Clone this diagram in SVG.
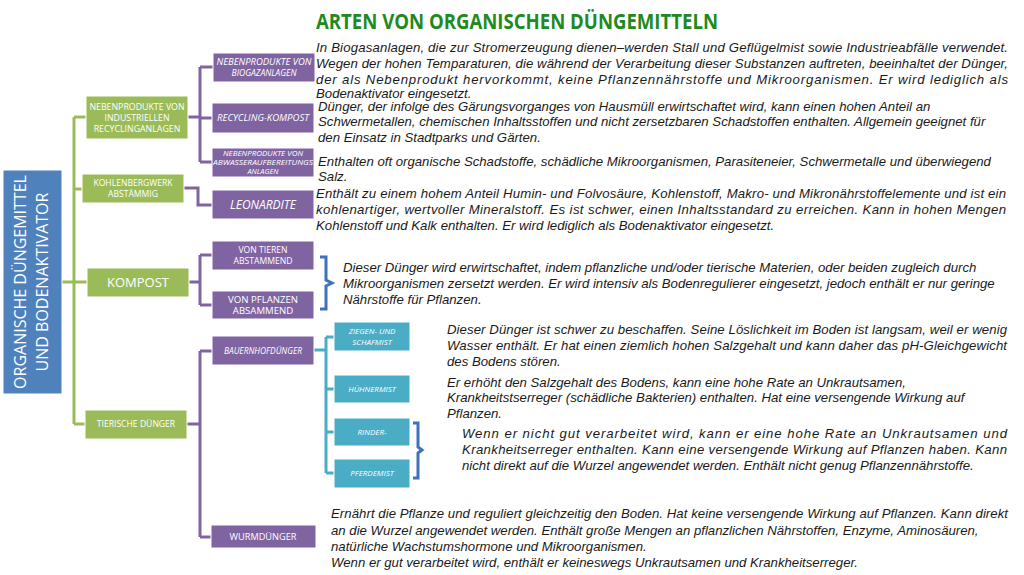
<svg xmlns="http://www.w3.org/2000/svg" width="1024" height="575" viewBox="0 0 1024 575">
<style>
.bg{fill:#ffffff}
.blue{fill:#4f81bd;stroke:#ffffff;stroke-width:1}
.green{fill:#9bbb59;stroke:#ffffff;stroke-width:1}
.purple{fill:#8064a2;stroke:#ffffff;stroke-width:1}
.teal{fill:#4bacc6;stroke:#ffffff;stroke-width:1}
.lbl{font-family:"Open Sans","Noto Sans",sans-serif;fill:#ffffff;text-anchor:middle}
.it{font-style:italic}
.desc{font-family:"Liberation Sans",Arial,sans-serif;font-style:italic;font-size:13.2px;fill:#1a1a1a}
.title{font-family:"Open Sans","Liberation Sans",sans-serif;font-weight:bold;font-size:21px;fill:#218a1e}
.cg{fill:none;stroke:#9bbb59;stroke-width:3}
.cp{fill:none;stroke:#8064a2;stroke-width:3}
.ct{fill:none;stroke:#4bacc6;stroke-width:3}
.cb{fill:none;stroke:#3f72bb;stroke-width:3}
</style>
<rect class="bg" x="0" y="0" width="1024" height="575"/>
<text class="title" x="316" y="29" textLength="402" lengthAdjust="spacingAndGlyphs">ARTEN VON ORGANISCHEN DÜNGEMITTELN</text>

<g id="connectors">
  <path class="cg" d="M62,282 H74 M74,117 V424 M74,117 H86 M74,189 H82 M74,282 H87 M74,424 H85"/>
  <path class="cp" d="M188,117 H200 M200,67 V162 M200,67 H213 M200,118 H212 M200,162 H212"/>
  <path class="cp" d="M184,188 H198 V205 H212"/>
  <path class="cp" d="M189,282 H200 M200,255 V305 M200,255 H212 M200,305 H212"/>
  <path class="cp" d="M187,424 H200 M200,351 V537 M200,351 H212 M200,537 H211"/>
  <path class="ct" d="M314,350 H326 M326,337 V473 M326,337 H334 M326,389 H334 M326,432 H334 M326,473 H334"/>
  <path class="cb" d="M320,257 H326 V280 L332,283 L326,286 V309 H320"/>
  <path class="cb" d="M413,423 H418 V447 L422,450 L418,453 V478 H413"/>
</g>

<g id="n-root">
  <rect class="blue" x="3" y="170" width="59" height="224"/>
  <text class="lbl" font-size="16" transform="translate(20,282) rotate(-90)" y="6">ORGANISCHE DÜNGEMITTEL</text>
  <text class="lbl" font-size="16" transform="translate(42,282) rotate(-90)" y="6">UND BODENAKTIVATOR</text>
</g>

<g id="n-industrie">
  <rect class="green" x="86" y="96" width="102" height="43"/>
  <text class="lbl" font-size="8.8" x="137" y="110">NEBENPRODUKTE VON</text>
  <text class="lbl" font-size="8.8" x="137" y="121">INDUSTRIELLEN</text>
  <text class="lbl" font-size="8.8" x="137" y="132">RECYCLINGANLAGEN</text>
</g>
<g id="n-kohle">
  <rect class="green" x="82" y="174" width="102" height="29"/>
  <text class="lbl" font-size="8.6" x="133" y="186">KOHLENBERGWERK</text>
  <text class="lbl" font-size="8.6" x="133" y="197">ABSTÄMMIG</text>
</g>
<g id="n-kompost">
  <rect class="green" x="87" y="268" width="102" height="29"/>
  <text class="lbl" font-size="13" x="138" y="287">KOMPOST</text>
</g>
<g id="n-tierisch">
  <rect class="green" x="85" y="410" width="102" height="29"/>
  <text class="lbl" font-size="8.6" x="136" y="427">TIERISCHE DÜNGER</text>
</g>

<g id="n-biogas">
  <rect class="purple" x="213" y="53" width="102" height="29"/>
  <text class="lbl it" font-size="8.6" x="264" y="65" textLength="95" lengthAdjust="spacingAndGlyphs">NEBENPRODUKTE VON</text>
  <text class="lbl it" font-size="8.6" x="264" y="76">BIOGAZANLAGEN</text>
</g>
<g id="n-recycling">
  <rect class="purple" x="212" y="103" width="102" height="30"/>
  <text class="lbl it" font-size="9" x="263" y="121" textLength="92" lengthAdjust="spacingAndGlyphs">RECYCLING-KOMPOST</text>
</g>
<g id="n-abwasser">
  <rect class="purple" x="212" y="148" width="102" height="29"/>
  <text class="lbl it" font-size="7.4" x="263" y="156" textLength="80" lengthAdjust="spacingAndGlyphs">NEBENPRODUKTE VON</text>
  <text class="lbl it" font-size="7.4" x="263" y="165" textLength="100" lengthAdjust="spacingAndGlyphs">ABWASSERAUFBEREITUNGS</text>
  <text class="lbl it" font-size="7.4" x="263" y="174">ANLAGEN</text>
</g>
<g id="n-leonardite">
  <rect class="purple" x="212" y="190" width="102" height="29"/>
  <text class="lbl it" font-size="12" x="263" y="209">LEONARDITE</text>
</g>
<g id="n-tieren">
  <rect class="purple" x="212" y="241" width="102" height="29"/>
  <text class="lbl" font-size="8.6" x="263" y="253">VON TIEREN</text>
  <text class="lbl" font-size="8.6" x="263" y="264">ABSTAMMEND</text>
</g>
<g id="n-pflanzen">
  <rect class="purple" x="212" y="291" width="102" height="28"/>
  <text class="lbl" font-size="9.6" x="263" y="303">VON PFLANZEN</text>
  <text class="lbl" font-size="9.6" x="263" y="314">ABSAMMEND</text>
</g>
<g id="n-bauernhof">
  <rect class="purple" x="212" y="336" width="102" height="29"/>
  <text class="lbl it" font-size="8.4" x="263" y="354">BAUERNHOFDÜNGER</text>
</g>
<g id="n-wurm">
  <rect class="purple" x="211" y="525" width="105" height="23"/>
  <text class="lbl" font-size="9.2" x="263" y="540">WURMDÜNGER</text>
</g>

<g id="n-ziegen">
  <rect class="teal" x="334" y="322" width="76" height="29"/>
  <text class="lbl it" font-size="8" x="372" y="334">ZIEGEN- UND</text>
  <text class="lbl it" font-size="8" x="372" y="345">SCHAFMIST</text>
</g>
<g id="n-huehner">
  <rect class="teal" x="334" y="375" width="76" height="28"/>
  <text class="lbl it" font-size="8" x="372" y="392">HÜHNERMIST</text>
</g>
<g id="n-rinder">
  <rect class="teal" x="334" y="418" width="76" height="28"/>
  <text class="lbl it" font-size="8" x="372" y="435">RINDER-</text>
</g>
<g id="n-pferde">
  <rect class="teal" x="334" y="459" width="76" height="29"/>
  <text class="lbl it" font-size="8" x="372" y="476">PFERDEMIST</text>
</g>

<g id="descriptions">
  <text class="desc" x="316" y="52" textLength="692" lengthAdjust="spacing">In Biogasanlagen, die zur Stromerzeugung dienen–werden Stall und Geflügelmist sowie Industrieabfälle verwendet.</text>
  <text class="desc" x="316" y="68" textLength="692" lengthAdjust="spacing">Wegen der hohen Temparaturen, die während der Verarbeitung dieser Substanzen auftreten, beeinhaltet der Dünger,</text>
  <text class="desc" x="316" y="83.5" textLength="692" lengthAdjust="spacing">der als Nebenprodukt hervorkommt, keine Pflanzennährstoffe und Mikroorganismen. Er wird lediglich als</text>
  <text class="desc" x="316" y="97.5">Bodenaktivator eingesetzt.</text>

  <text class="desc" x="318" y="110.5">Dünger, der infolge des Gärungsvorganges von Hausmüll erwirtschaftet wird, kann einen hohen Anteil an</text>
  <text class="desc" x="318" y="126">Schwermetallen, chemischen Inhaltsstoffen und nicht zersetzbaren Schadstoffen enthalten. Allgemein geeignet für</text>
  <text class="desc" x="318" y="142">den Einsatz in Stadtparks und Gärten.</text>

  <text class="desc" x="318" y="166">Enthalten oft organische Schadstoffe, schädliche Mikroorganismen, Parasiteneier, Schwermetalle und überwiegend</text>
  <text class="desc" x="318" y="181">Salz.</text>

  <text class="desc" x="316" y="198" textLength="690" lengthAdjust="spacing">Enthält zu einem hohem Anteil Humin- und Folvosäure,  Kohlenstoff, Makro- und Mikronährstoffelemente und ist ein</text>
  <text class="desc" x="316" y="214" textLength="690" lengthAdjust="spacing">kohlenartiger, wertvoller Mineralstoff.   Es ist schwer, einen Inhaltsstandard zu erreichen. Kann in hohen Mengen</text>
  <text class="desc" x="316" y="230">Kohlenstoff und Kalk enthalten. Er wird lediglich als Bodenaktivator eingesetzt.</text>

  <text class="desc" x="343" y="272">Dieser Dünger wird erwirtschaftet, indem pflanzliche und/oder tierische Materien, oder beiden zugleich durch</text>
  <text class="desc" x="343" y="288">Mikroorganismen zersetzt werden. Er wird intensiv als Bodenregulierer eingesetzt, jedoch enthält er nur geringe</text>
  <text class="desc" x="343" y="304">Nährstoffe für Pflanzen.</text>

  <text class="desc" x="447" y="334" textLength="560" lengthAdjust="spacing">Dieser Dünger ist schwer zu beschaffen. Seine Löslichkeit im Boden ist langsam, weil er wenig</text>
  <text class="desc" x="447" y="350" textLength="560" lengthAdjust="spacing">Wasser enthält. Er hat einen ziemlich hohen Salzgehalt und kann daher das pH-Gleichgewicht</text>
  <text class="desc" x="447" y="366">des Bodens stören.</text>

  <text class="desc" x="447" y="387">Er erhöht den Salzgehalt des Bodens, kann eine hohe Rate an Unkrautsamen,</text>
  <text class="desc" x="447" y="402">Krankheitstserreger (schädliche Bakterien) enthalten. Hat eine versengende Wirkung auf</text>
  <text class="desc" x="447" y="418">Pflanzen.</text>

  <text class="desc" x="462" y="438" textLength="545" lengthAdjust="spacing">Wenn er nicht gut verarbeitet wird, kann er eine hohe Rate an Unkrautsamen und</text>
  <text class="desc" x="462" y="454" textLength="545" lengthAdjust="spacing">Krankheitserreger enthalten. Kann eine versengende Wirkung auf Pflanzen haben. Kann</text>
  <text class="desc" x="462" y="470">nicht direkt auf die Wurzel angewendet werden. Enthält nicht genug Pflanzennährstoffe.</text>

  <text class="desc" x="331" y="518" textLength="677" lengthAdjust="spacing">Ernährt die Pflanze und reguliert gleichzeitig den Boden. Hat keine versengende Wirkung auf Pflanzen. Kann direkt</text>
  <text class="desc" x="331" y="535">an die Wurzel angewendet werden. Enthält große Mengen an pflanzlichen Nährstoffen, Enzyme, Aminosäuren,</text>
  <text class="desc" x="331" y="551">natürliche Wachstumshormone und Mikroorganismen.</text>
  <text class="desc" x="331" y="567">Wenn er gut verarbeitet wird, enthält er keineswegs Unkrautsamen und Krankheitserreger.</text>
</g>
</svg>
